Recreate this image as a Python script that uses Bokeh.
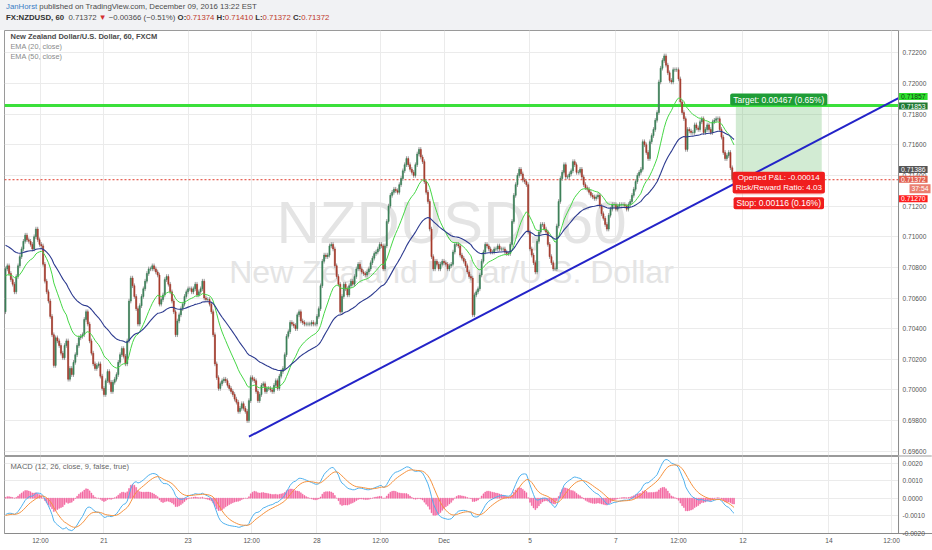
import numpy as np
from bokeh.plotting import figure
from bokeh.layouts import column
from bokeh.models import (Range1d, FixedTicker, PrintfTickFormatter, Label, Span, Div)
from bokeh.embed import file_html
from bokeh.resources import INLINE

# ---------------- data ----------------
PIP = 0.0001
FIRST_OPEN_PIPS = 7051
CLOSE_PIPS = [
    7079, 7081, 7076, 7072, 7069, 7064, 7074, 7081, 7087, 7092,
    7097, 7101, 7098, 7097, 7095, 7092, 7100, 7105, 7098, 7095,
    7094, 7082, 7071, 7064, 7058, 7048, 7036, 7016, 7034, 7032,
    7029, 7024, 7021, 7029, 7032, 7007, 7014, 7010, 7018, 7023,
    7029, 7034, 7035, 7036, 7046, 7051, 7043, 7032, 7024, 7017,
    7014, 7016, 7017, 7009, 7001, 6997, 7006, 7012, 7005, 6999,
    7005, 7007, 7010, 7018, 7023, 7027, 7022, 7017, 7032, 7058,
    7073, 7068, 7061, 7053, 7043, 7055, 7061, 7066, 7071, 7076,
    7079, 7079, 7081, 7079, 7077, 7075, 7056, 7059, 7062, 7072,
    7074, 7069, 7064, 7058, 7051, 7036, 7045, 7049, 7053, 7056,
    7061, 7064, 7066, 7066, 7064, 7066, 7069, 7062, 7064, 7066,
    7071, 7060, 7059, 7059, 7056, 7051, 7036, 7017, 7008, 7001,
    7004, 7006, 7007, 7006, 7003, 7001, 6999, 6997, 6994, 6992,
    6986, 6988, 6991, 6988, 6986, 6980, 6993, 7008, 7007, 7006,
    6999, 6993, 6997, 7003, 7004, 6999, 7001, 7001, 7000, 6999,
    7003, 7006, 7001, 7009, 7012, 7014, 7023, 7035, 7038, 7044,
    7043, 7042, 7040, 7049, 7051, 7045, 7044, 7043, 7043, 7043,
    7043, 7044, 7043, 7043, 7048, 7053, 7068, 7084, 7088, 7087,
    7088, 7094, 7095, 7092, 7081, 7074, 7069, 7051, 7061, 7069,
    7066, 7062, 7068, 7071, 7069, 7074, 7079, 7082, 7079, 7077,
    7076, 7075, 7077, 7079, 7083, 7086, 7089, 7090, 7092, 7095,
    7094, 7079, 7094, 7110, 7120, 7127, 7129, 7131, 7130, 7129,
    7134, 7138, 7143, 7147, 7151, 7147, 7144, 7142, 7140, 7147,
    7154, 7157, 7152, 7149, 7136, 7129, 7123, 7105, 7087, 7079,
    7084, 7082, 7079, 7082, 7084, 7083, 7082, 7079, 7081, 7082,
    7090, 7095, 7095, 7094, 7088, 7086, 7084, 7081, 7077, 7074,
    7073, 7049, 7062, 7064, 7066, 7075, 7084, 7090, 7095, 7094,
    7092, 7090, 7090, 7092, 7092, 7094, 7092, 7092, 7092, 7090,
    7089, 7089, 7095, 7110, 7127, 7134, 7140, 7144, 7141, 7137,
    7136, 7134, 7103, 7092, 7088, 7083, 7077, 7097, 7103, 7108,
    7108, 7105, 7103, 7095, 7087, 7083, 7079, 7079, 7107, 7123,
    7138, 7142, 7147, 7139, 7139, 7141, 7143, 7149, 7147, 7142,
    7142, 7144, 7139, 7134, 7132, 7131, 7129, 7127, 7126, 7125,
    7126, 7127, 7120, 7115, 7112, 7108, 7105, 7114, 7118, 7121,
    7121, 7118, 7120, 7121, 7121, 7121, 7120, 7118, 7121, 7123,
    7127, 7131, 7136, 7140, 7142, 7144, 7162, 7160, 7155, 7151,
    7162, 7166, 7170, 7176, 7181, 7201, 7210, 7215, 7218, 7212,
    7207, 7202, 7201, 7209, 7209, 7209, 7203, 7188, 7181, 7177,
    7157, 7170, 7169, 7168, 7168, 7173, 7171, 7170, 7175, 7177,
    7168, 7170, 7173, 7170, 7168, 7175, 7176, 7177, 7177, 7170,
    7165, 7155, 7151, 7153, 7155, 7145, 7137.4, 7137.2,
]
EMA20_SEED = 0.7074
EMA50_SEED = 0.7095
MACD_FAST_SEED = 0.7082
MACD_SLOW_SEED = 0.7092
MACD_SIGNAL_SEED = -0.0010

TIME_TICK_BARS = [19.5, 55, 102, 137.5, 174, 209.5, 245, 293, 341, 376, 412, 460, 495]
TIME_TICK_LABELS = ["12:00", "21", "23", "12:00", "28", "12:00", "Dec", "5", "7",
                    "12:00", "12", "14", "12:00"]
PRICE_TICKS = [0.696, 0.698, 0.700, 0.702, 0.704, 0.706, 0.708, 0.710,
               0.712, 0.714, 0.716, 0.718, 0.720, 0.722]
MACD_TICKS = [-0.002, -0.001, 0.0, 0.001, 0.002]

HLINE_PRICE = 0.71857
LAST_PRICE = 0.71372
ENTRY_PRICE = 0.71386
TARGET_PRICE = 0.71853
STOP_PRICE = 0.71270
COUNTDOWN = "37:54"
POSITION_BARS = (408, 456)
TREND_ANCHORS = [(136, 0.69695), (489, 0.71844)]

TARGET_TEXT = "Target: 0.00467 (0.65%)"
PNL_TEXT = "Opened P&L: -0.00014\nRisk/Reward Ratio: 4.03"
STOP_TEXT = "Stop: 0.00116 (0.16%)"

HEADER_AUTHOR = "JanHorst"
HEADER_REST = " published on TradingView.com, December 09, 2016 13:22 EST"
HEADER_SYMBOL = "FX:NZDUSD, 60"
HEADER_LAST = "0.71372"
HEADER_CHANGE = "\u22120.00366 (\u22120.51%)"
HEADER_OHLC = [("O", "0.71374"), ("H", "0.71410"), ("L", "0.71372"), ("C", "0.71372")]

MAIN_TITLE = "New Zealand Dollar/U.S. Dollar, 60, FXCM"
EMA_TITLES = ["EMA (20, close)", "EMA (50, close)"]
MACD_TITLE = "MACD (12, 26, close, 9, false, true)"
WATERMARK = ["NZDUSD, 60", "New Zealand Dollar/U.S. Dollar"]

# ---------------- layout / style ----------------
FONT = "Liberation Sans"
PX_PER_BAR = 1.79
LEFT = 4
FW = 928                      # frame runs to the right edge; the price scale sits inside it
AXIS_BAR = 498.9              # bar position of the price-scale line
X_RANGE = (-0.56, -0.56 + FW / PX_PER_BAR)
PRICE_RANGE = (0.69572, 0.72346)
MACD_RANGE = (-0.00202, 0.00238)
MAIN_H = 425
MACD_H = 77
LABEL_STANDOFF = -30
WICK = 1.5 * PIP
UP_COLOR = "#3B8058"
DOWN_COLOR = "#A63A2C"
GRID = "#ebebeb"
AXIS_COLOR = "#8a8a8a"

# ---------------- computations ----------------
closes = np.array(CLOSE_PIPS, dtype=float) * PIP
opens = np.concatenate([[FIRST_OPEN_PIPS * PIP], closes[:-1]])
bars = np.arange(len(closes))
top = np.maximum(opens, closes)
bot = np.minimum(opens, closes)
colors = [UP_COLOR if c >= o else DOWN_COLOR for o, c in zip(opens, closes)]


def ema(values, n, seed):
    a = 2.0 / (n + 1)
    out = []
    e = seed
    for v in values:
        e = a * v + (1 - a) * e
        out.append(e)
    return np.array(out)


ema20 = ema(closes, 20, EMA20_SEED)
ema50 = ema(closes, 50, EMA50_SEED)
macd = ema(closes, 12, MACD_FAST_SEED) - ema(closes, 26, MACD_SLOW_SEED)
signal = ema(macd, 9, MACD_SIGNAL_SEED)
hist = macd - signal

# ---------------- header ----------------
ohlc_html = " ".join(
    f'<b style="color:#333">{k}:</b><span style="color:#c0392b">{v}</span>' for k, v in HEADER_OHLC)
header_html = (
    f'<div style="font-family:\'{FONT}\';font-size:7.8px;color:#4a4a4a;line-height:10.5px;'
    f'padding:2px 0 0 6px;white-space:nowrap">'
    f'<span style="color:#3b7dc4">{HEADER_AUTHOR}</span>{HEADER_REST}<br>'
    f'<b style="color:#333">{HEADER_SYMBOL}</b>&nbsp; {HEADER_LAST} '
    f'<span style="color:#d32f2f">&#9660;</span> {HEADER_CHANGE} {ohlc_html}</div>'
)
header = Div(text=header_html, width=LEFT + FW, height=30, margin=(0, 0, 0, 0),
             styles={"background-color": "#F1F2F4"})


def style_price_axis(ax, fmt):
    ax.formatter = PrintfTickFormatter(format=fmt)
    ax.major_label_text_font = FONT
    ax.major_label_text_font_size = "6.6px"
    ax.major_label_text_color = "#555555"
    ax.axis_line_color = None
    ax.major_tick_line_color = None
    ax.minor_tick_line_color = None
    ax.major_tick_out = 0
    ax.major_tick_in = 0
    ax.minor_tick_out = 0
    ax.major_label_standoff = LABEL_STANDOFF


def cover_scale(fig, yr):
    # white strip behind the price scale (hides grid / rays beyond the scale line)
    fig.quad(left=AXIS_BAR, right=X_RANGE[1] + 5, top=yr[1] + 1, bottom=yr[0] - 1,
             fill_color="white", line_color=None)
    fig.add_layout(Span(location=AXIS_BAR, dimension="height", line_color=AXIS_COLOR,
                        line_width=1))


# ---------------- main price panel ----------------
p = figure(frame_width=FW, frame_height=MAIN_H, x_range=Range1d(*X_RANGE),
           y_range=Range1d(*PRICE_RANGE), output_backend="svg", toolbar_location=None,
           x_axis_location=None, y_axis_location="right", min_border_left=LEFT,
           min_border_right=0, min_border_top=0, min_border_bottom=1,
           background_fill_color="white", border_fill_color="white",
           outline_line_color="#9a9a9a")
p.yaxis.ticker = FixedTicker(ticks=PRICE_TICKS)
style_price_axis(p.yaxis[0], "%.5f")
p.xgrid.ticker = FixedTicker(ticks=TIME_TICK_BARS)
p.xgrid.grid_line_color = GRID
p.ygrid.grid_line_color = GRID

xmid = (X_RANGE[0] + AXIS_BAR) / 2
pspan = PRICE_RANGE[1] - PRICE_RANGE[0]
p.add_layout(Label(x=xmid, y=PRICE_RANGE[1] - 0.452 * pspan, text=WATERMARK[0],
                   text_align="center", text_baseline="middle", text_font=FONT,
                   text_font_size="60px", text_color="#e4e4e4", level="underlay"))
p.add_layout(Label(x=xmid, y=PRICE_RANGE[1] - 0.569 * pspan, text=WATERMARK[1],
                   text_align="center", text_baseline="middle", text_font=FONT,
                   text_font_size="32px", text_color="#e4e4e4", level="underlay"))

# position tool areas
p.quad(left=POSITION_BARS[0], right=POSITION_BARS[1], top=TARGET_PRICE, bottom=ENTRY_PRICE,
       fill_color="#4CAF50", fill_alpha=0.25, line_color=None)
p.quad(left=POSITION_BARS[0], right=POSITION_BARS[1], top=ENTRY_PRICE, bottom=STOP_PRICE,
       fill_color="#F44336", fill_alpha=0.2, line_color=None)

# horizontal level line and last-price line
p.line([X_RANGE[0], AXIS_BAR], [HLINE_PRICE, HLINE_PRICE], line_color="#3be03b", line_width=3)
p.line([X_RANGE[0], AXIS_BAR], [LAST_PRICE, LAST_PRICE], line_color="#e0392b", line_width=1,
       line_dash="2 2")

# candles
p.segment(x0=bars, x1=bars, y0=top + WICK, y1=bot - WICK, line_color="#9a9a9a", line_width=1)
p.vbar(x=bars, width=0.62, top=top, bottom=bot, fill_color=colors, line_color=colors,
       line_width=0.6)

# EMAs
p.line(bars, ema20, line_color="#45d645", line_width=1)
p.line(bars, ema50, line_color="#2c3a8f", line_width=1.1)

# trend line (ray through two anchors)
(b0, p0), (b1, p1) = TREND_ANCHORS
slope = (p1 - p0) / (b1 - b0)
b_end = X_RANGE[1]
p.line([b0, b_end], [p0, p0 + slope * (b_end - b0)], line_color="#2323c8", line_width=2)

cover_scale(p, PRICE_RANGE)


def box(fig, x, y, text, bg, fg="white", size="8.5px", yo=0, xo=0, align="center",
        pad=(3, 1), rad=2):
    fig.add_layout(Label(x=x, y=y, text=text, x_offset=xo, y_offset=yo, text_align=align,
                         text_baseline="middle", text_font=FONT, text_font_size=size,
                         text_color=fg, background_fill_color=bg, padding=pad,
                         border_radius=rad))


pos_mid = (POSITION_BARS[0] + POSITION_BARS[1]) / 2
box(p, pos_mid, TARGET_PRICE, TARGET_TEXT, "#1f9d37", yo=6.5)
box(p, pos_mid, ENTRY_PRICE, PNL_TEXT, "#f01e1e", size="8px", yo=-5)
box(p, pos_mid, STOP_PRICE, STOP_TEXT, "#f01e1e", yo=-8)

# price-scale boxes
edge = dict(size="6.8px", align="left", xo=0.5, pad=(2, 1), rad=0)
box(p, AXIS_BAR, HLINE_PRICE, f"{HLINE_PRICE:.5f}", "#2ee02e", fg="#114411", yo=9, **edge)
box(p, AXIS_BAR, TARGET_PRICE, f"{TARGET_PRICE:.5f}", "#1f7a33", yo=0, **edge)
box(p, AXIS_BAR, ENTRY_PRICE, f"{ENTRY_PRICE:.5f}", "#555555", yo=8, **edge)
box(p, AXIS_BAR, LAST_PRICE, f"{LAST_PRICE:.5f}", "#e2604f", yo=0.5, **edge)
box(p, AXIS_BAR, STOP_PRICE, f"{STOP_PRICE:.5f}", "#ff1e1e", yo=-3.5, **edge)
box(p, AXIS_BAR, LAST_PRICE, COUNTDOWN, "#ea7f70", yo=-9, size="6.8px", align="left",
    xo=11, pad=(2, 1), rad=0)

# panel titles
p.add_layout(Label(x=X_RANGE[0], y=PRICE_RANGE[1], x_offset=6, y_offset=-6, text=MAIN_TITLE,
                   text_align="left", text_baseline="middle", text_font=FONT,
                   text_font_size="7.5px", text_font_style="bold", text_color="#4a4a4a"))
for k, t in enumerate(EMA_TITLES):
    p.add_layout(Label(x=X_RANGE[0], y=PRICE_RANGE[1], x_offset=6, y_offset=-15.5 - 10 * k,
                       text=t, text_align="left", text_baseline="middle", text_font=FONT,
                       text_font_size="7.3px", text_color="#8a8a8a"))

# ---------------- MACD panel ----------------
m = figure(frame_width=FW, frame_height=MACD_H, x_range=p.x_range,
           y_range=Range1d(*MACD_RANGE), output_backend="svg", toolbar_location=None,
           y_axis_location="right", min_border_left=LEFT, min_border_right=0,
           min_border_top=0, min_border_bottom=2, background_fill_color="white",
           border_fill_color="white", outline_line_color="#9a9a9a")
m.yaxis.ticker = FixedTicker(ticks=MACD_TICKS)
style_price_axis(m.yaxis[0], "%.4f")
m.xaxis.ticker = FixedTicker(ticks=TIME_TICK_BARS)
m.xaxis.major_label_overrides = {float(b): t for b, t in zip(TIME_TICK_BARS, TIME_TICK_LABELS)}
xa = m.xaxis[0]
xa.major_label_text_font = FONT
xa.major_label_text_font_size = "6.6px"
xa.major_label_text_color = "#555555"
xa.axis_line_color = AXIS_COLOR
xa.major_tick_line_color = None
xa.major_tick_out = 0
xa.major_tick_in = 0
xa.minor_tick_line_color = None
xa.minor_tick_out = 0
xa.major_label_standoff = 3
m.xgrid.grid_line_color = GRID
m.ygrid.grid_line_color = GRID

m.vbar(x=bars, width=0.5, top=hist, bottom=0, fill_color="#f2609c", line_color="#f2609c",
       line_width=0.5)
m.line(bars, macd, line_color="#4fb1ee", line_width=1)
m.line(bars, signal, line_color="#f5923e", line_width=1)
cover_scale(m, MACD_RANGE)
m.add_layout(Label(x=X_RANGE[0], y=MACD_RANGE[1], x_offset=6, y_offset=-10, text=MACD_TITLE,
                   text_align="left", text_baseline="middle", text_font=FONT,
                   text_font_size="7.6px", text_color="#666666"))

layout = column(header, p, m, spacing=0)
open("out.html", "w").write(file_html(layout, INLINE))
